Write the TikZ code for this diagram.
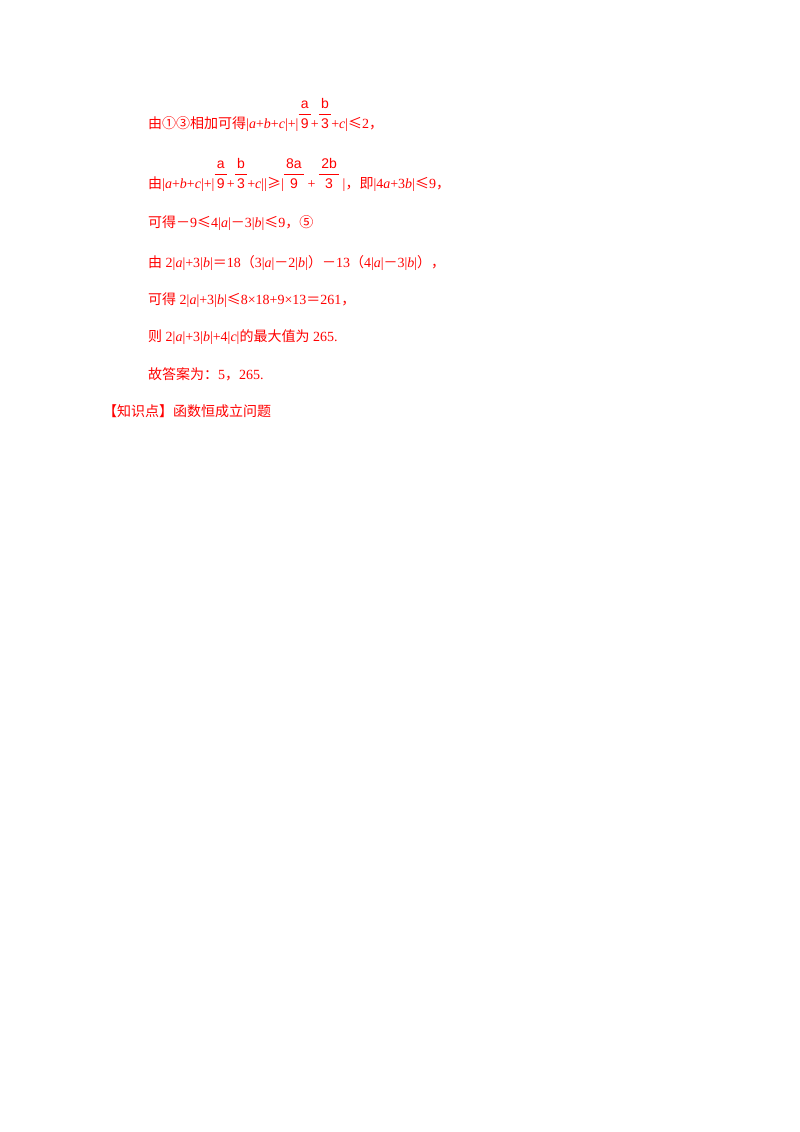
\documentclass[tikz,border=0pt]{standalone}
\usepackage{fontspec}
\setmainfont{Liberation Serif}
\setsansfont{Liberation Sans}
\newfontfamily\cjk{Noto Sans CJK SC}
\newcommand\fr[2]{{\renewcommand\arraystretch{1.15}\setlength\arrayrulewidth{0.7pt}\begin{tabular}[b]{@{\,}c@{\,}}\sffamily #1\\\hline\sffamily #2\end{tabular}}}
\newcommand\C[1]{{\cjk #1}}
\newcommand\I[1]{\textit{#1}}
\begin{document}
\begin{tikzpicture}[x=1pt,y=-1pt]
\tikzset{ln/.style={anchor=base west,inner sep=0pt,text=red,font=\fontsize{14}{16}\selectfont}}
\useasboundingbox[fill=white] (0,0) rectangle (800,1132);
\node[ln] (l1) at (148,128) {\C{由①③相加可得}|\I{a}+\I{b}+\I{c}|+|\fr{a}{9}+\fr{b}{3}+\I{c}|\C{≤}2\C{，}};
\node[ln] (l2) at (148,188) {\C{由}|\I{a}+\I{b}+\I{c}|+|\fr{a}{9}+\fr{b}{3}+\I{c}||\C{≥}|\fr{8a}{9} + \fr{2b}{3} |\C{，即}|4\I{a}+3\I{b}|\C{≤}9\C{，}};
\node[ln] (l3) at (148,227) {\C{可得}\C{－}9\C{≤}4|\I{a}|\C{－}3|\I{b}|\C{≤}9\C{，⑤}};
\node[ln] (l4) at (148,267) {\C{由} 2|\I{a}|+3|\I{b}|\C{＝}18\C{（}3|\I{a}|\C{－}2|\I{b}|\C{）}\C{－}13\C{（}4|\I{a}|\C{－}3|\I{b}|\C{），}};
\node[ln] (l5) at (148,304) {\C{可得} 2|\I{a}|+3|\I{b}|\C{≤}8×18+9×13\C{＝}261\C{，}};
\node[ln] (l6) at (148,341) {\C{则} 2|\I{a}|+3|\I{b}|+4|\I{c}|\C{的最大值为} 265.};
\node[ln] (l7) at (148,379) {\C{故答案为：}5\C{，}265.};
\node[ln] (l8) at (103,416) {\C{【知识点】函数恒成立问题}};
\end{tikzpicture}
\end{document}
